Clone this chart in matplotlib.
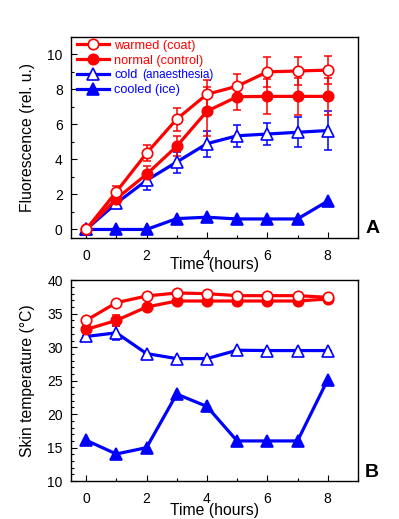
#!/usr/bin/env python3
"""
Fluorescence and skin temperature over time, two panels
"""

import numpy as np
import matplotlib
matplotlib.use("Agg")
import matplotlib.pyplot as plt
from matplotlib.ticker import MultipleLocator

plt.rcParams['font.family'] = ['Liberation Sans', 'DejaVu Sans']

RED = "#ff0000"
BLUE = "#0000ff"

# Time axis (hours)
hours = [0, 1, 2, 3, 4, 5, 6, 7, 8]

# Panel A: fluorescence (rel. u.)
fluo_warmed = [0.0, 2.15, 4.35, 6.3, 7.72, 8.18, 9.0, 9.05, 9.1]
fluo_warmed_err = [0.0, 0.35, 0.45, 0.65, 0.8, 0.72, 0.85, 0.8, 0.8]
fluo_normal = [0.0, 1.75, 3.15, 4.75, 6.75, 7.58, 7.6, 7.6, 7.6]
fluo_normal_err = [0.0, 0.15, 0.5, 0.57, 1.4, 0.73, 1.02, 1.05, 1.05]
fluo_cold = [0.0, 1.5, 2.8, 3.85, 4.9, 5.35, 5.45, 5.55, 5.65]
fluo_cold_err = [0.0, 0.3, 0.55, 0.6, 0.75, 0.62, 0.65, 0.85, 1.1]
fluo_cooled = [0.0, 0.0, 0.0, 0.62, 0.7, 0.6, 0.6, 0.6, 1.62]

# Panel B: skin temperature (deg C)
temp_warmed = [34.0, 36.65, 37.65, 38.1, 38.0, 37.7, 37.7, 37.7, 37.45]
temp_normal = [32.65, 34.0, 36.0, 36.9, 36.9, 36.9, 36.9, 36.9, 37.2]
temp_normal_err = [0.6, 0.8, 0.5, 0.0, 0.0, 0.0, 0.0, 0.0, 0.0]
temp_cold = [31.6, 32.15, 29.05, 28.3, 28.3, 29.55, 29.5, 29.5, 29.5]
temp_cold_err = [0.0, 1.0, 0.0, 0.0, 0.0, 0.0, 0.0, 0.0, 0.0]
temp_cooled = [16.1, 14.05, 15.0, 23.0, 21.15, 16.0, 16.0, 16.0, 25.15]

labels = ["warmed (coat)", "normal (control)", "cold", "cooled (ice)"]


def draw_series(ax, y, err, color, marker, filled, label=None):
    face = color if filled else "white"
    ms = 7.5 if marker == "o" else 8
    if err is not None:
        ax.errorbar(hours, y, yerr=err, fmt="none", ecolor=color,
                    elinewidth=1.1, capsize=3, capthick=1.1, zorder=2)
    ax.plot(hours, y, color=color, lw=2.3, marker=marker, ms=ms,
            mfc=face, mec=color, mew=1.2, label=label, zorder=3)


def style_axes(ax, label_y):
    ax.set_xlim(-0.5, 9)
    ax.xaxis.set_major_locator(MultipleLocator(2))
    ax.xaxis.set_minor_locator(MultipleLocator(1))
    ax.yaxis.set_minor_locator(MultipleLocator(1))
    ax.tick_params(which="both", direction="in", top=False, right=False,
                   labelsize=10, width=0.8)
    ax.tick_params(axis="x", which="major", length=4, pad=8)
    ax.tick_params(axis="x", which="minor", length=2.5)
    ax.tick_params(axis="y", which="major", length=4, pad=6)
    ax.tick_params(axis="y", which="minor", length=2.5)
    for s in ax.spines.values():
        s.set_linewidth(1.0)
    ax.set_xlabel("Time (hours)", fontsize=11.3)
    ax.xaxis.set_label_coords(0.5, label_y)
    ax.xaxis.label.set_va("center")
    ax.yaxis.set_label_coords(-0.125, 0.5)


fig = plt.figure(figsize=(3.99, 5.19), dpi=100)
axA = fig.add_axes([0.178, 0.541, 0.719, 0.388])
axB = fig.add_axes([0.178, 0.073, 0.719, 0.387])

# Panel A
draw_series(axA, fluo_cold, fluo_cold_err, BLUE, "^", False, labels[2])
draw_series(axA, fluo_cooled, None, BLUE, "^", True, labels[3])
draw_series(axA, fluo_normal, fluo_normal_err, RED, "o", True, labels[1])
draw_series(axA, fluo_warmed, fluo_warmed_err, RED, "o", False, labels[0])
style_axes(axA, -0.13)
axA.set_ylim(-0.5, 11)
axA.yaxis.set_major_locator(MultipleLocator(2))
axA.set_ylabel("Fluorescence (rel. u.)", fontsize=11.3)

handles, labs = axA.get_legend_handles_labels()
order = [labs.index(l) for l in labels]
leg = axA.legend([handles[i] for i in order], [labs[i] for i in order],
                 loc="upper left", bbox_to_anchor=(0.0, 1.015),
                 frameon=False, fontsize=9.2, handlelength=2.5,
                 handletextpad=0.45, labelspacing=0.23, borderaxespad=0.15,
                 borderpad=0.3)
leg_colors = [RED, RED, BLUE, BLUE]
for txt, c in zip(leg.get_texts(), leg_colors):
    txt.set_color(c)

# smaller "(anaesthesia)" placed right after the "cold" legend entry
fig.canvas.draw()
bb = leg.get_texts()[2].get_window_extent()
px, py = fig.transFigure.inverted().transform((bb.x1 + 4, (bb.y0 + bb.y1) / 2))
fig.text(px, py, "(anaesthesia)", fontsize=8.5, color=BLUE,
         va="center", ha="left")

axA.text(1.025, 0.048, "A", transform=axA.transAxes, fontsize=14,
         fontweight="bold", va="center", ha="left")

# Panel B
draw_series(axB, temp_cold, temp_cold_err, BLUE, "^", False)
draw_series(axB, temp_cooled, None, BLUE, "^", True)
draw_series(axB, temp_normal, temp_normal_err, RED, "o", True)
draw_series(axB, temp_warmed, None, RED, "o", False)
style_axes(axB, -0.145)
axB.set_ylim(10, 40)
axB.yaxis.set_major_locator(MultipleLocator(5))
axB.set_ylabel("Skin temperature (°C)", fontsize=11.3)
axB.text(1.025, 0.045, "B", transform=axB.transAxes, fontsize=14,
         fontweight="bold", va="center", ha="left")

fig.savefig("out.png", dpi=100)
